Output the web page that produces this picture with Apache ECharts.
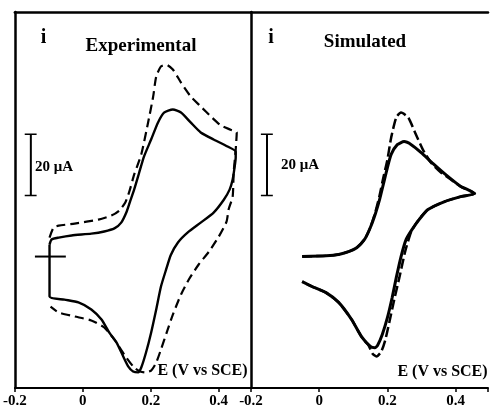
<!DOCTYPE html>
<html><head><meta charset="utf-8">
<script src="https://cdn.jsdelivr.net/npm/echarts@6/dist/echarts.min.js"></script>
<style>html,body{margin:0;padding:0;background:#fff}#c{width:491px;height:416px}</style>
</head><body><div id="c"></div>
<script>
// Potential E (V vs SCE), current (uA, arbitrary zero)
const tickLabels = ['-0.2', '0', '0.2', '0.4'];

const expSolid = [
[-0.098,3.9],[-0.092,5.6],[-0.071,6.2],[-0.033,6.9],[0.025,7.5],[0.063,8.2],[0.093,9.2],[0.113,11.1],[0.128,14.4],[0.139,18.0],[0.151,21.9],[0.166,27.5],[0.180,32.7],[0.201,38.3],[0.221,43.8],[0.239,47.1],[0.265,48.1],[0.289,47.1],[0.318,43.8],[0.347,40.6],[0.385,38.3],[0.426,36.0],[0.450,34.3],
[0.450,32.4],[0.447,29.4],[0.441,25.2],[0.432,21.9],[0.415,18.6],[0.385,14.4],[0.347,11.1],[0.309,7.9],[0.280,4.6],[0.259,0.5],[0.245,-4.3],[0.230,-9.8],[0.216,-17.3],[0.201,-24.9],[0.186,-31.4],[0.172,-36.3],[0.163,-37.9],[0.148,-37.6],[0.134,-36.0],[0.119,-32.7],[0.099,-28.1],[0.078,-24.9],[0.055,-20.6],[0.025,-17.3],[-0.013,-15.0],[-0.054,-14.1],[-0.098,-13.1],[-0.098,3.9]
];

const expDashed = [
[-0.098,6.2],[-0.086,9.5],[-0.071,10.1],[-0.024,10.8],[0.046,12.1],[0.084,13.4],[0.107,15.0],[0.125,17.7],[0.137,21.3],[0.151,26.8],[0.172,33.4],[0.192,43.8],[0.207,52.3],[0.216,58.9],[0.230,62.2],[0.245,62.8],[0.265,61.2],[0.289,56.9],[0.318,52.3],[0.347,49.1],[0.377,45.8],[0.406,42.9],[0.435,41.5],[0.453,40.6],
[0.450,35.0],[0.444,27.5],[0.441,19.6],[0.429,15.4],[0.423,11.4],[0.400,6.5],[0.371,1.6],[0.341,-2.6],[0.312,-7.5],[0.289,-12.4],[0.265,-19.0],[0.248,-24.5],[0.230,-30.4],[0.216,-34.7],[0.201,-37.3],[0.183,-37.9],[0.169,-37.6],[0.151,-36.3],[0.122,-32.1],[0.093,-27.2],[0.063,-23.2],[0.025,-20.9],[-0.024,-19.6],[-0.071,-18.3],[-0.095,-16.4]
];

const simSolid = [
[-0.050,0],[0.020,0.3],[0.057,0.7],[0.086,1.6],[0.110,2.9],[0.133,5.6],[0.150,9.5],[0.165,14.1],[0.177,18.6],[0.188,23.6],[0.200,29.1],[0.211,33.4],[0.229,36.6],[0.249,37.6],[0.270,36.6],[0.299,34.0],[0.334,30.4],[0.371,26.8],[0.412,23.2],[0.456,20.6],
[0.415,19.6],[0.368,18.0],[0.319,15.4],[0.293,12.1],[0.272,8.8],[0.255,5.6],[0.240,0],[0.226,-6.9],[0.214,-13.4],[0.200,-20.0],[0.185,-25.5],[0.171,-29.1],[0.163,-29.8],[0.150,-29.4],[0.124,-26.2],[0.095,-20.6],[0.057,-15.0],[0.020,-11.8],[-0.021,-9.8],[-0.050,-8.2]
];

const simDashed = [
[-0.050,0],[0.020,0.3],[0.057,0.7],[0.086,1.6],[0.110,2.9],[0.133,5.6],[0.150,9.5],[0.165,14.7],[0.177,20.0],[0.188,25.8],[0.200,31.7],[0.211,38.9],[0.226,45.5],[0.240,47.1],[0.261,45.5],[0.281,40.6],[0.304,35.0],[0.328,30.7],[0.357,27.5],[0.386,25.2],[0.415,22.9],[0.456,20.6],
[0.415,19.6],[0.368,18.0],[0.319,15.4],[0.290,11.8],[0.270,8.2],[0.252,1.6],[0.235,-6.9],[0.220,-14.1],[0.206,-21.3],[0.194,-27.2],[0.182,-31.1],[0.168,-32.7],[0.156,-31.7],[0.145,-29.1],[0.124,-26.2],[0.095,-20.6],[0.057,-15.0],[0.020,-11.8],[-0.021,-9.8],[-0.050,-8.2]
];

// 20 uA scale bar and zero-current marker
const scaleBar = [[-0.153,20],[-0.153,40]];
const scaleCapTop = [[-0.171,40],[-0.136,40]];
const scaleCapBottom = [[-0.171,20],[-0.136,20]];
const zeroMarker = [[-0.141,0],[-0.05,0]];

const FONT = "'Liberation Serif','DejaVu Serif',serif";
const chart = echarts.init(document.getElementById('c'));

function xBottom(g) {
  return {
    gridIndex: g, type: 'value', min: -0.2, max: 0.495, interval: 0.2,
    axisLine: {show: true, onZero: false, lineStyle: {color: '#000', width: 2}},
    axisTick: {show: true, length: 4, lineStyle: {color: '#000', width: 1.5}},
    axisLabel: {
      color: '#000', fontFamily: FONT, fontWeight: 'bold', fontSize: 15, margin: 6,
      formatter: function (v) {
        const i = Math.round((v + 0.2) / 0.2);
        return Math.abs(v - (-0.2 + 0.2 * i)) < 1e-6 && tickLabels[i] !== undefined ? tickLabels[i] : '';
      }
    },
    splitLine: {show: false}
  };
}
function xTop(g) {
  return {
    gridIndex: g, type: 'value', position: 'top', min: -0.2, max: 0.495,
    axisLine: {show: true, onZero: false, lineStyle: {color: '#000', width: 2.5}},
    axisTick: {show: false}, axisLabel: {show: false}, splitLine: {show: false}
  };
}
function yAx(g) {
  return {
    gridIndex: g, type: 'value', min: -43, max: 80,
    axisLine: {show: true, onZero: false, lineStyle: {color: '#000', width: 2.5}},
    axisTick: {show: false}, axisLabel: {show: false}, splitLine: {show: false}
  };
}
function lineS(data, g, width, dash, smooth) {
  return {
    type: 'line', xAxisIndex: g, yAxisIndex: g, data: data,
    showSymbol: false, symbol: 'none', smooth: smooth, silent: true,
    lineStyle: {color: '#000', width: width, type: dash || 'solid'}
  };
}

chart.setOption({
  animation: false,
  backgroundColor: '#fff',
  grid: [
    {left: 12.5, top: 12, width: 238.5, height: 376},
    {left: 251, top: 12, width: 239, height: 376}
  ],
  xAxis: [xBottom(0), xBottom(1), xTop(0), xTop(1)],
  yAxis: [yAx(0), yAx(1)],
  series: [
    lineS(expSolid, 0, 2.4, 'solid', 0.2),
    lineS(expDashed, 0, 2.2, [9, 5], 0.2),
    lineS(simSolid, 1, 3, 'solid', 0.2),
    lineS(simDashed, 1, 2.5, [10, 4], 0.2),
    lineS(scaleBar, 0, 2, 'solid', false),
    lineS(scaleCapTop, 0, 1.5, 'solid', false),
    lineS(scaleCapBottom, 0, 1.5, 'solid', false),
    lineS(scaleBar, 1, 2, 'solid', false),
    lineS(scaleCapTop, 1, 1.5, 'solid', false),
    lineS(scaleCapBottom, 1, 1.5, 'solid', false),
    lineS(zeroMarker, 0, 2, 'solid', false)
  ],
  graphic: [
    {type: 'text', x: 43.5, y: 38, style: {text: 'i', font: "bold 20px " + FONT, fill: '#000', textAlign: 'center', textVerticalAlign: 'middle'}},
    {type: 'text', x: 141, y: 46, style: {text: 'Experimental', font: "bold 19px " + FONT, fill: '#000', textAlign: 'center', textVerticalAlign: 'middle'}},
    {type: 'text', x: 271, y: 38, style: {text: 'i', font: "bold 20px " + FONT, fill: '#000', textAlign: 'center', textVerticalAlign: 'middle'}},
    {type: 'text', x: 365, y: 42, style: {text: 'Simulated', font: "bold 19px " + FONT, fill: '#000', textAlign: 'center', textVerticalAlign: 'middle'}},
    {type: 'text', x: 35, y: 167, style: {text: '20 \u03bcA', font: "bold 15px " + FONT, fill: '#000', textAlign: 'left', textVerticalAlign: 'middle'}},
    {type: 'text', x: 281, y: 165, style: {text: '20 \u03bcA', font: "bold 15px " + FONT, fill: '#000', textAlign: 'left', textVerticalAlign: 'middle'}},
    {type: 'text', x: 202.5, y: 371, style: {text: 'E (V vs SCE)', font: "bold 16px " + FONT, fill: '#000', textAlign: 'center', textVerticalAlign: 'middle'}},
    {type: 'text', x: 442.5, y: 372, style: {text: 'E (V vs SCE)', font: "bold 16px " + FONT, fill: '#000', textAlign: 'center', textVerticalAlign: 'middle'}}
  ]
});
</script></body></html>
